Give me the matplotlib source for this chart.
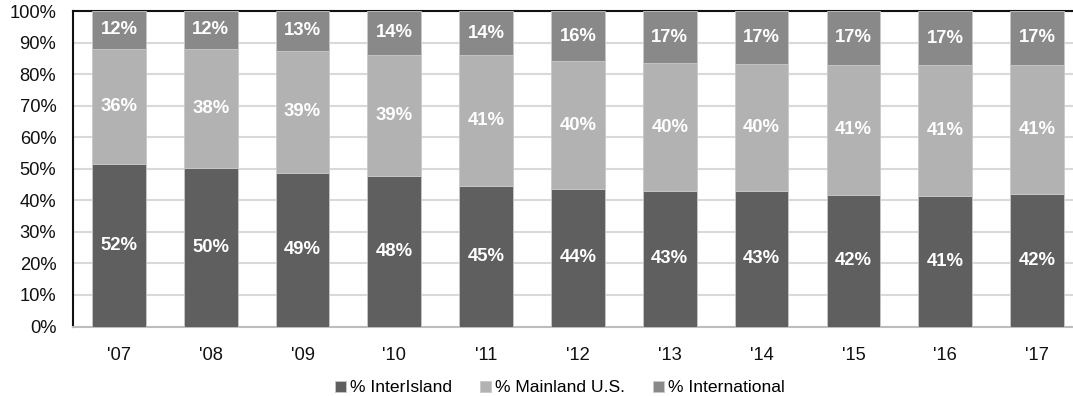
import matplotlib
matplotlib.use("Agg")
import matplotlib.pyplot as plt
import numpy as np

plt.rcParams["font.family"] = ["Liberation Sans", "DejaVu Sans"]

years = ["'07", "'08", "'09", "'10", "'11", "'12", "'13", "'14", "'15", "'16", "'17"]
interisland = [51.6, 50.2, 48.6, 47.6, 44.6, 43.6, 43.0, 42.9, 41.7, 41.4, 42.0]
mainland = [36.4, 37.9, 38.8, 38.6, 41.4, 40.4, 40.4, 40.2, 41.2, 41.4, 40.9]
international = [12.0, 11.9, 12.6, 13.8, 14.0, 16.0, 16.6, 16.9, 17.1, 17.2, 17.1]

series = [
    ("% InterIsland", interisland, "#5f5f5f"),
    ("% Mainland U.S.", mainland, "#b2b2b2"),
    ("% International", international, "#898989"),
]

fig = plt.figure(figsize=(10.73, 3.96), dpi=100)
ax = fig.add_axes([73 / 1073, 1 - 326.5 / 396, 1 - 73 / 1073, 315.5 / 396])

x = np.arange(len(years))
bottom = np.zeros(len(years))
for name, vals, color in series:
    vals = np.array(vals)
    ax.bar(x, vals, width=0.585, bottom=bottom, color=color, label=name,
           edgecolor="#c8c8c8", linewidth=0.6, zorder=3)
    for xi, b, v in zip(x, bottom, vals):
        ax.text(xi, b + v / 2, f"{v:.0f}%", ha="center", va="center",
                color="white", fontsize=13.3, fontweight="bold", zorder=4)
    bottom += vals

ax.set_xlim(-0.5, (1073 - 119) / 91.8)
ax.set_ylim(0, 100)
ax.set_yticks(np.arange(0, 101, 10))
ax.set_yticklabels([f"{v}%" for v in range(0, 101, 10)])
ax.set_xticks(x)
ax.set_xticklabels(years)
ax.tick_params(axis="both", length=0, labelsize=13.2, colors="#111111")
ax.tick_params(axis="y", pad=12)
ax.tick_params(axis="x", pad=15)

ax.yaxis.grid(True, color="#d9d9d9", linewidth=1.5, zorder=0)
ax.set_axisbelow(True)
ax.spines["right"].set_visible(False)
ax.spines["top"].set_color("#111111")
ax.spines["top"].set_linewidth(1.5)
ax.spines["left"].set_color("#111111")
ax.spines["left"].set_linewidth(1.5)
ax.spines["bottom"].set_color("#bdbdbd")
ax.spines["bottom"].set_linewidth(1.5)

fig.legend(loc="center", bbox_to_anchor=(560 / 1073, 1 - 388 / 396), ncol=3,
           frameon=False, fontsize=12.6, handlelength=0.6, handleheight=0.6,
           handletextpad=0.25, columnspacing=1.6, borderaxespad=0)

fig.savefig("out.png", dpi=100)
